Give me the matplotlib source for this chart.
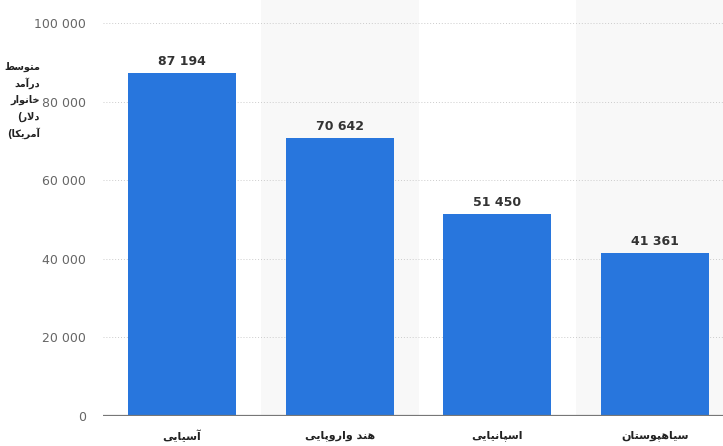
import matplotlib
matplotlib.use("Agg")
import matplotlib.pyplot as plt
from matplotlib.ticker import FuncFormatter

# data
groups = ["آسیایی", "هند واروپایی", "اسپانیایی", "سیاهپوستان"]
income = [87194, 70642, 51450, 41361]
ylabel_lines = ["متوسط", "درآمد", "خانوار", "(دلار", "آمریکا)"]

# simple arabic/persian shaping (matplotlib does not shape or reorder RTL text)
# letter: (isolated, final, initial, medial); None = does not join to next letter
FORMS = {
    "ا": ("\uFE8D", "\uFE8E", None, None),
    "آ": ("\uFE81", "\uFE82", None, None),
    "د": ("\uFEA9", "\uFEAA", None, None),
    "ر": ("\uFEAD", "\uFEAE", None, None),
    "و": ("\uFEED", "\uFEEE", None, None),
    "پ": ("\uFB56", "\uFB57", "\uFB58", "\uFB59"),
    "ت": ("\uFE95", "\uFE96", "\uFE97", "\uFE98"),
    "خ": ("\uFEA5", "\uFEA6", "\uFEA7", "\uFEA8"),
    "س": ("\uFEB1", "\uFEB2", "\uFEB3", "\uFEB4"),
    "ط": ("\uFEC1", "\uFEC2", "\uFEC3", "\uFEC4"),
    "ک": ("\uFB8E", "\uFB8F", "\uFB90", "\uFB91"),
    "ل": ("\uFEDD", "\uFEDE", "\uFEDF", "\uFEE0"),
    "م": ("\uFEE1", "\uFEE2", "\uFEE3", "\uFEE4"),
    "ن": ("\uFEE5", "\uFEE6", "\uFEE7", "\uFEE8"),
    "ه": ("\uFEE9", "\uFEEA", "\uFEEB", "\uFEEC"),
    "ی": ("\uFBFC", "\uFBFD", "\uFBFE", "\uFBFF"),
}


def joins_next(ch):
    return ch in FORMS and FORMS[ch][2] is not None


def shape_word(word):
    out = []
    i = 0
    while i < len(word):
        ch = word[i]
        prev = word[i - 1] if i > 0 else ""
        after_prev = joins_next(prev)
        # lam-alef ligature
        if ch == "ل" and i + 1 < len(word) and word[i + 1] == "ا":
            out.append("\uFEFC" if after_prev else "\uFEFB")
            i += 2
            continue
        if ch not in FORMS:
            out.append(ch)
            i += 1
            continue
        nxt = word[i + 1] if i + 1 < len(word) else ""
        to_next = joins_next(ch) and nxt in FORMS
        iso, fin, ini, med = FORMS[ch]
        if after_prev and to_next:
            out.append(med)
        elif after_prev:
            out.append(fin)
        elif to_next:
            out.append(ini)
        else:
            out.append(iso)
        i += 1
    return out


def rtl(text):
    # shape letters, keep brackets on the left as in the reference
    brackets = "".join(c for c in text if c in "()")
    core = text.replace("(", "").replace(")", "")
    glyphs = shape_word(core)
    return ("(" if brackets else "") + "".join(reversed(glyphs))


plt.rcParams["font.family"] = ["DejaVu Sans"]

fig = plt.figure(figsize=(7.23, 4.46), dpi=100)
ax = fig.add_axes([103 / 723, 1 - 416 / 446, 631 / 723, 416 / 446])

x = list(range(len(groups)))
ax.set_xlim(-0.5, len(groups) - 0.5)
ax.set_ylim(0, 105850)

# alternating background bands
for i in x:
    if i % 2 == 1:
        ax.axvspan(i - 0.5, i + 0.5, color="#f8f8f8", zorder=0, lw=0)

for yv in range(20000, 100001, 20000):
    ax.axhline(yv, color="#cccccc", lw=0.7, ls=(0, (1, 2)), zorder=1)
ax.axhline(0, color="#777777", lw=1.6, zorder=3)

ax.bar(x, income, width=0.685, color="#2876dd", zorder=2)

for xi, v in zip(x, income):
    ax.text(xi, v + 1300, "{:,}".format(v).replace(",", " "), ha="center", va="bottom",
            fontsize=9, fontweight="bold", color="#333333")

ax.set_yticks(range(0, 100001, 20000))
ax.yaxis.set_major_formatter(FuncFormatter(lambda v, p: "{:,}".format(int(v)).replace(",", " ")))
ax.tick_params(axis="y", length=0, pad=12, labelsize=9, labelcolor="#666666")

ax.set_xticks(x)
ax.set_xticklabels([rtl(g) for g in groups], fontsize=8, fontweight="bold", color="#222222")
ax.tick_params(axis="x", length=0, pad=10)

for s in ax.spines.values():
    s.set_visible(False)

# stacked y-axis label at top left
for k, line in enumerate(ylabel_lines):
    fig.text(40 / 723, 1 - (67 + k * 16.5) / 446, rtl(line), ha="right", va="center",
             fontsize=7, fontweight="bold", color="#222222")

fig.savefig("out.png", dpi=100)
